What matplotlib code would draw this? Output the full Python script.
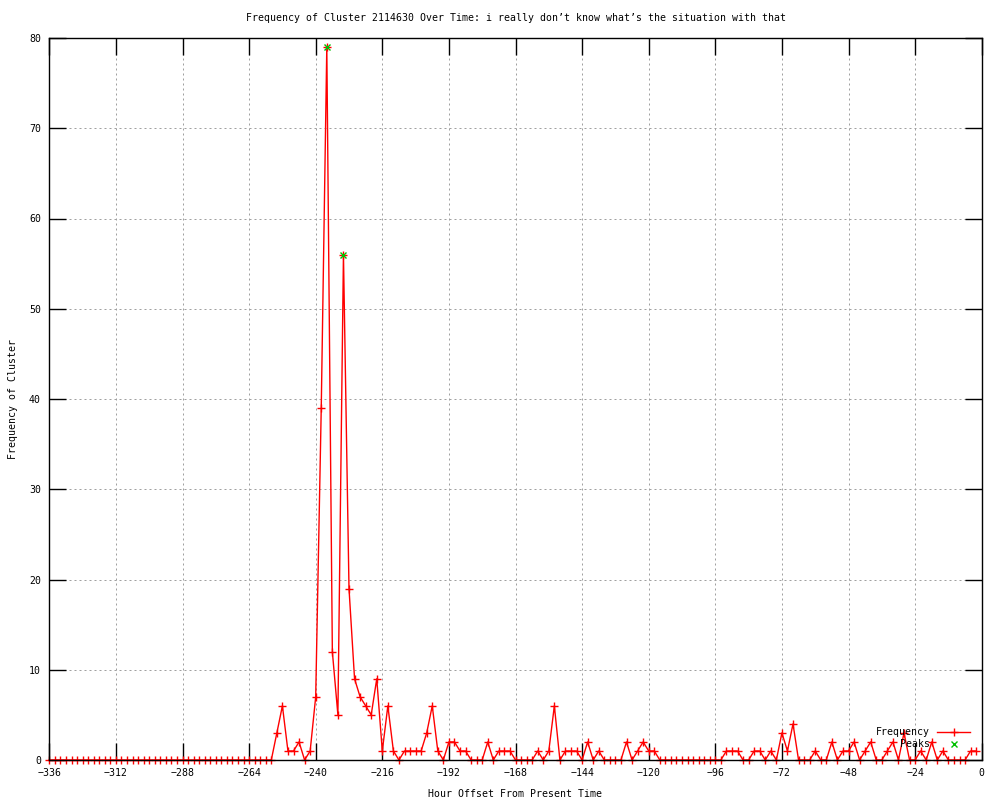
import numpy as np
import matplotlib
matplotlib.use('Agg')
import matplotlib.pyplot as plt

# hour offsets, one sample every 2 hours
hours = np.arange(-336, 0, 2)

# cluster frequency, 12 values per row (24 hours)
freq = [
    0, 0, 0, 0, 0, 0, 0, 0, 0, 0, 0, 0,       # -336 .. -314
    0, 0, 0, 0, 0, 0, 0, 0, 0, 0, 0, 0,       # -312 .. -290
    0, 0, 0, 0, 0, 0, 0, 0, 0, 0, 0, 0,       # -288 .. -266
    0, 0, 0, 0, 0, 3, 6, 1, 1, 2, 0, 1,       # -264 .. -242
    7, 39, 79, 12, 5, 56, 19, 9, 7, 6, 5, 9,  # -240 .. -218
    1, 6, 1, 0, 1, 1, 1, 1, 3, 6, 1, 0,       # -216 .. -194
    2, 2, 1, 1, 0, 0, 0, 2, 0, 1, 1, 1,       # -192 .. -170
    0, 0, 0, 0, 1, 0, 1, 6, 0, 1, 1, 1,       # -168 .. -146
    0, 2, 0, 1, 0, 0, 0, 0, 2, 0, 1, 2,       # -144 .. -122
    1, 1, 0, 0, 0, 0, 0, 0, 0, 0, 0, 0,       # -120 .. -98
    0, 0, 1, 1, 1, 0, 0, 1, 1, 0, 1, 0,       # -96 .. -74
    3, 1, 4, 0, 0, 0, 1, 0, 0, 2, 0, 1,       # -72 .. -50
    1, 2, 0, 1, 2, 0, 0, 1, 2, 0, 3, 0,       # -48 .. -26
    0, 1, 0, 2, 0, 1, 0, 0, 0, 0, 1, 1,       # -24 .. -2
]

peak_hours = [-236, -230]
peak_vals = [79, 56]

xticks = np.arange(-336, 1, 24)
yticks = np.arange(0, 81, 10)

title = "Frequency of Cluster 2114630 Over Time: i really don\u2019t know what\u2019s the situation with that"

fs = 7.1
plt.rcParams['font.family'] = ['DejaVu Sans Mono']
plt.rcParams['font.size'] = fs

fig = plt.figure(figsize=(10, 8), dpi=100)
ax = fig.add_axes([0.0493, 0.05, 0.9324, 0.9025])

ax.plot(hours, freq, color='#ff0000', lw=1, marker='+', ms=5.5, mew=1,
        clip_on=False, zorder=3)
ax.plot(peak_hours, peak_vals, ls='none', color='#00c000', marker='x',
        ms=4.5, mew=1, clip_on=False, zorder=4)

ax.set_xlim(-336, 0)
ax.set_ylim(0, 80)
ax.set_xticks(xticks)
ax.set_yticks(yticks)
ax.tick_params(direction='in', length=12, width=1, top=True, right=True,
               color='black', labelsize=fs, pad=6)
for s in ax.spines.values():
    s.set_linewidth(1)
    s.set_zorder(5)

ax.grid(True, color='#a0a0a0', lw=0.72, ls=(0, (2, 3)))
ax.set_axisbelow(True)

ax.set_title(title, fontsize=fs, pad=12)
ax.set_xlabel("Hour Offset From Present Time", fontsize=fs, labelpad=8)
ax.set_ylabel("Frequency of Cluster", fontsize=fs)
ax.yaxis.set_label_coords(-0.034, 0.5)

# key, bottom right inside like gnuplot
ax.text(0.9446, 0.0383, "Frequency", transform=ax.transAxes, ha='right',
        va='center', fontsize=fs, zorder=6)
ax.plot([0.952, 0.9875], [0.0383, 0.0383], transform=ax.transAxes,
        color='#ff0000', lw=1, clip_on=False, zorder=6)
ax.plot([0.97], [0.0383], transform=ax.transAxes, color='#ff0000',
        marker='+', ms=5.5, mew=1, clip_on=False, zorder=6)
ax.text(0.9446, 0.0217, "Peaks", transform=ax.transAxes, ha='right',
        va='center', fontsize=fs, zorder=6)
ax.plot([0.97], [0.0217], transform=ax.transAxes, color='#00c000',
        marker='x', ms=4.5, mew=1, clip_on=False, zorder=6)

fig.savefig('out.png', dpi=100)
